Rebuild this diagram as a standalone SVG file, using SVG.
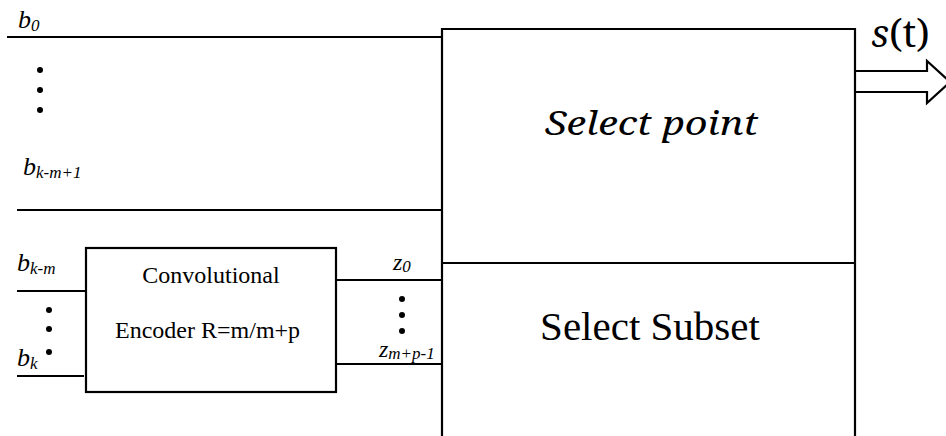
<svg xmlns="http://www.w3.org/2000/svg" width="946" height="436" viewBox="0 0 946 436">
  <rect width="946" height="436" fill="#fff"/>

  <!-- wires: shared stroke set on the group -->
  <g id="connectors" stroke="#000" stroke-width="2.2" fill="none">
    <line x1="7" y1="37" x2="443" y2="37"/>
    <line x1="17" y1="210" x2="443" y2="210"/>
    <line x1="17" y1="291" x2="87" y2="291"/>
    <line x1="17" y1="376" x2="84" y2="376"/>
    <line x1="336" y1="280" x2="443" y2="280"/>
    <line x1="336" y1="364" x2="444" y2="364"/>
    <!-- output arrow s(t) -->
    <path d="M855,71 H927 V61 L950,82 L927,103 V92 H855"/>
  </g>

  <!-- ellipsis dots -->
  <g id="dots" fill="#000">
    <circle cx="40" cy="70" r="3"/>
    <circle cx="40" cy="90" r="3"/>
    <circle cx="40" cy="110" r="3"/>
    <circle cx="49" cy="310" r="3"/>
    <circle cx="49" cy="329" r="3"/>
    <circle cx="49" cy="352" r="3"/>
    <circle cx="402" cy="299" r="3"/>
    <circle cx="402" cy="315" r="3"/>
    <circle cx="402" cy="331" r="3"/>
  </g>

  <!-- input / output labels -->
  <g id="labels" fill="#000">
    <text x="18" y="28" font-size="26" font-family="Liberation Serif" font-style="italic">b<tspan font-size="17" dy="3">0</tspan></text>
    <text x="23" y="175" font-size="26" font-family="Liberation Serif" font-style="italic">b<tspan font-size="17" dy="3">k-m+1</tspan></text>
    <text x="17" y="271" font-size="26" font-family="Liberation Serif" font-style="italic">b<tspan font-size="17" dy="3">k-m</tspan></text>
    <text x="17" y="366" font-size="26" font-family="Liberation Serif" font-style="italic">b<tspan font-size="17" dy="3">k</tspan></text>
    <text x="393" y="270" font-size="24" font-family="Liberation Serif" font-style="italic">z<tspan font-size="17" dy="2">0</tspan></text>
    <text x="379" y="357" font-size="24" font-family="Liberation Serif" font-style="italic">z<tspan font-size="17" dy="2">m+p-1</tspan></text>
    <text x="871" y="47" font-size="39" font-family="Noto Serif"><tspan font-style="italic">s</tspan>(t)</text>
  </g>

  <!-- mapper block: select point / select subset -->
  <g id="mapper">
    <path d="M442,440 V29 H855 V440" stroke="#000" stroke-width="2.2" fill="#fff"/>
    <line x1="442" y1="263" x2="855" y2="263" stroke="#000" stroke-width="2.2"/>
    <text x="545" y="135" font-size="32" font-style="italic" font-family="Noto Serif" textLength="213" lengthAdjust="spacingAndGlyphs">Select point</text>
    <text x="650" y="340" font-size="41" text-anchor="middle" font-family="Liberation Serif">Select Subset</text>
  </g>

  <!-- convolutional encoder -->
  <g id="encoder">
    <rect x="86" y="248" width="250" height="144" stroke="#000" stroke-width="2.2" fill="#fff"/>
    <text x="211" y="283" font-size="24" font-family="Liberation Serif" text-anchor="middle">Convolutional</text>
    <text y="338" font-size="24" font-family="Liberation Serif"><tspan x="115">Encoder</tspan><tspan x="201">R=m/m+p</tspan></text>
  </g>
</svg>
